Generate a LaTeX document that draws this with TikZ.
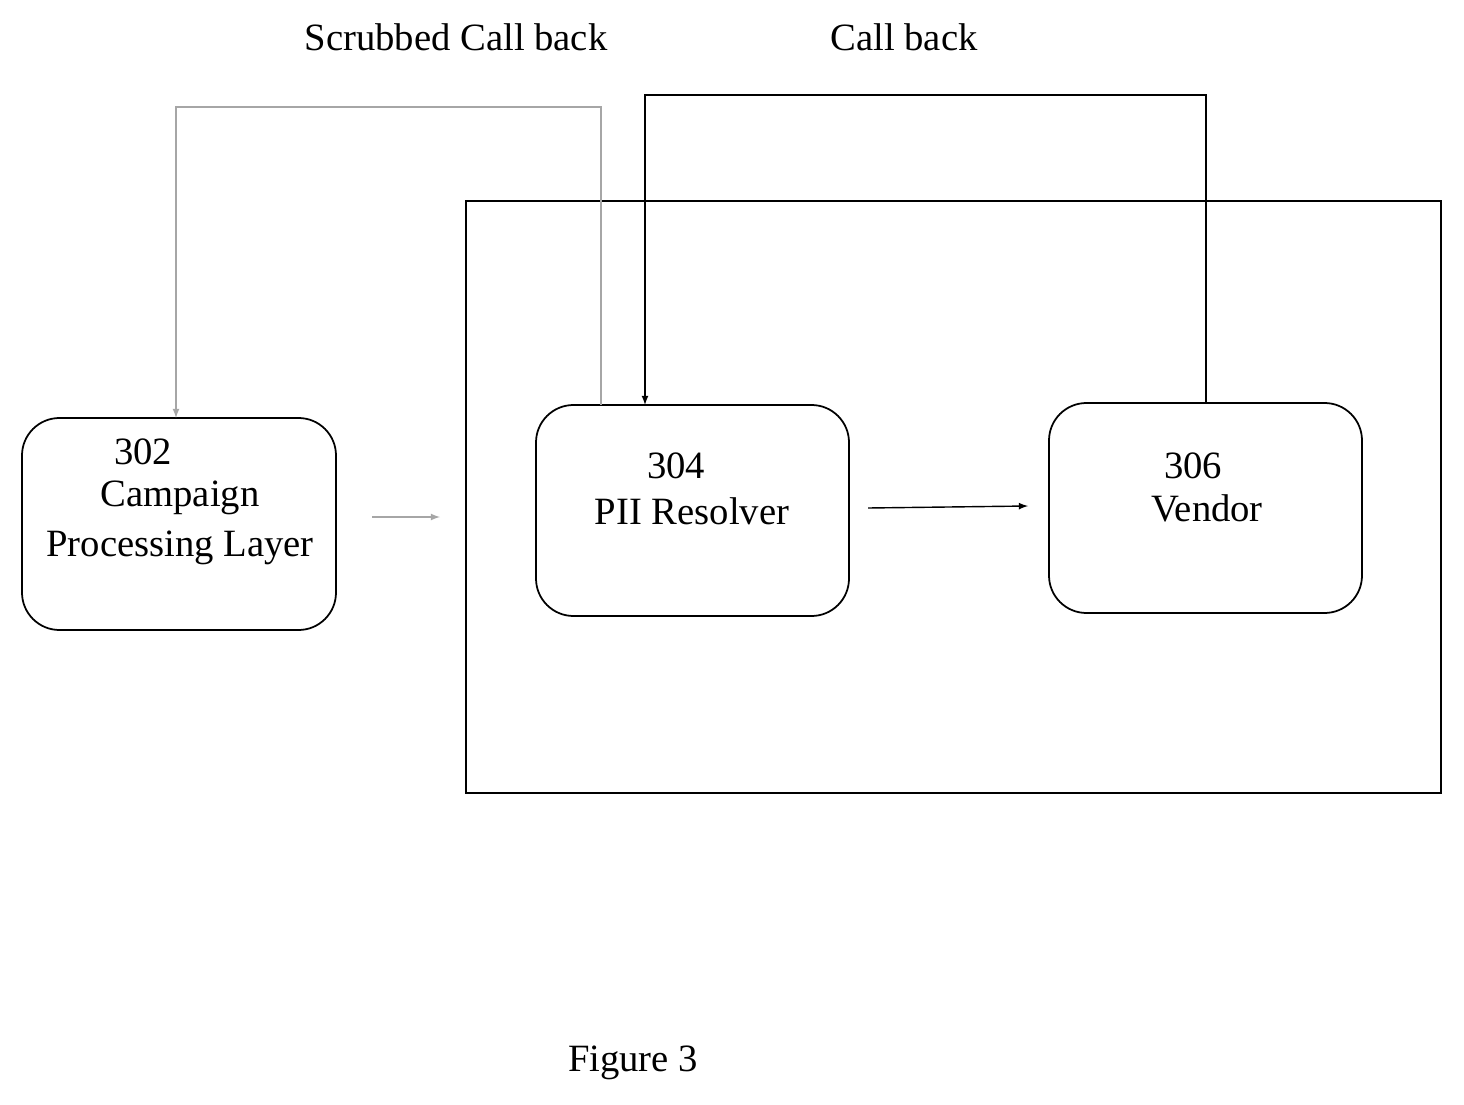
\documentclass[tikz,border=0pt]{standalone}
\usepackage{fontspec}
\setmainfont{Liberation Serif}
\begin{document}
\begin{tikzpicture}[x=0.02cm,y=-0.02cm,
 box/.style={draw,line width=1pt,rounded corners=0.75cm},
 lbl/.style={font=\fontsize{22}{26}\selectfont,inner sep=0},
 conn/.style={draw,line width=0.8pt,-latex},
 gconn/.style={draw=gray!70,line width=0.8pt,-latex}]
\useasboundingbox (0,0) rectangle (1464,1105);
\draw[line width=1pt] (466,201) rectangle (1441,793);
\draw[box] (22,418) rectangle (336,630);
\draw[box] (536,405) rectangle (849,616);
\draw[box] (1049,403) rectangle (1362,613);
\coordinate (t302) at (176,418);
\coordinate (t304a) at (601,405);
\coordinate (t304b) at (645,405);
\coordinate (t306) at (1206,403);
\node[lbl] (n302) at (143,452) {302};
\node[lbl] (c302) at (180,498) {Campaign};
\node[lbl] (p302) at (180,548) {Processing Layer};
\node[lbl] (n304) at (676,466) {304};
\node[lbl] (r304) at (692,511) {PII Resolver};
\node[lbl] (n306) at (1193,466) {306};
\node[lbl] (v306) at (1207,508) {Vendor};
\node[lbl] (s) at (456,37) {Scrubbed Call back};
\node[lbl] (cb) at (904,37) {Call back};
\node[lbl] (fig) at (633,1063) {Figure 3};
\coordinate (a1) at (372,517); \coordinate (a2) at (440,517);
\coordinate (b1) at (868,508); \coordinate (b2) at (1028,506);
\path[gconn] (a1) -- (a2);
\path[conn] (b1) -- (b2);
\path[gconn] (t304a) -- (601,107) -- (176,107) -- (t302);
\path[conn] (t306) -- (1206,95) -- (645,95) -- (t304b);
\end{tikzpicture}
\end{document}
